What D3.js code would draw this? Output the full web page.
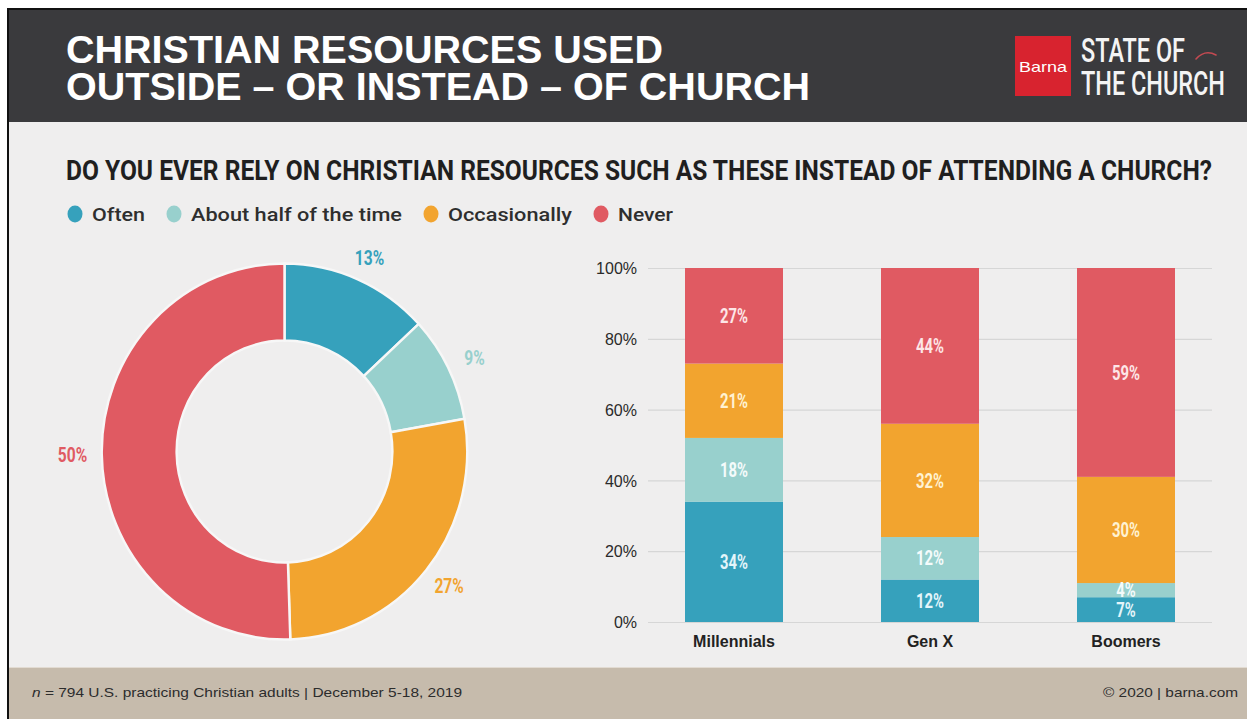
<!DOCTYPE html>
<html>
<head>
<meta charset="utf-8">
<script src="https://cdn.jsdelivr.net/npm/d3@7"></script>
<style>
  html, body { margin: 0; padding: 0; background: #ffffff; }
  svg { display: block; }
</style>
</head>
<body>
<svg id="chart" width="1247" height="719"></svg>
<script>
// ---- data ----
const responseLabels = ["Often", "About half of the time", "Occasionally", "Never"];
const responseColors = ["#36a1bc", "#98d0cd", "#f2a42f", "#e05a62"];
const labelTints = ["#e4f5fa", "#f4fbfb", "#fff2d2", "#fde6e7"];
const overallShares = [13, 9, 27, 50];

const generations = ["Millennials", "Gen X", "Boomers"];
const oftenValues = [34, 12, 7];
const halfTimeValues = [18, 12, 4];
const occasionallyValues = [21, 32, 30];
const neverValues = [27, 44, 59];
const yTickValues = [0, 20, 40, 60, 80, 100];

const titleLines = ["CHRISTIAN RESOURCES USED", "OUTSIDE \u2013 OR INSTEAD \u2013 OF CHURCH"];
const question = "DO YOU EVER RELY ON CHRISTIAN RESOURCES SUCH AS THESE INSTEAD OF ATTENDING A CHURCH?";

const svg = d3.select("#chart");

// squeeze a text element horizontally to a narrower face
function condense(sel, factor) {
  sel.each(function () {
    const w = this.getComputedTextLength();
    d3.select(this).attr("textLength", w * factor).attr("lengthAdjust", "spacingAndGlyphs");
  });
  return sel;
}
function fitWidth(sel, width) {
  return sel.attr("textLength", width).attr("lengthAdjust", "spacingAndGlyphs");
}

// ---- frame ----
svg.append("rect").attr("x", 7).attr("y", 8).attr("width", 1240).attr("height", 711).attr("fill", "#111");
svg.append("rect").attr("x", 9).attr("y", 10).attr("width", 1238).attr("height", 112).attr("fill", "#3a3a3d");
svg.append("rect").attr("x", 9).attr("y", 122).attr("width", 1238).attr("height", 546).attr("fill", "#efeeee");
svg.append("rect").attr("x", 9).attr("y", 668).attr("width", 1238).attr("height", 51).attr("fill", "#c6bbac");
svg.append("rect").attr("x", 9).attr("y", 667).attr("width", 1238).attr("height", 1).attr("fill", "#e2dbd2");

// ---- header ----
const title = svg.append("g").attr("font-family", "'Liberation Sans', Arial, sans-serif")
  .attr("font-weight", "bold").attr("font-size", 39).attr("fill", "#ffffff");
fitWidth(title.append("text").attr("x", 66).attr("y", 63).text(titleLines[0]), 597);
fitWidth(title.append("text").attr("x", 66).attr("y", 100).text(titleLines[1]), 744);

// logo block
const logo = svg.append("g");
logo.append("rect").attr("x", 1015).attr("y", 36).attr("width", 56).attr("height", 60).attr("fill", "#d8232f");
fitWidth(logo.append("text").attr("x", 1019).attr("y", 72)
  .attr("font-family", "'Liberation Sans', Arial, sans-serif").attr("font-size", 15)
  .attr("fill", "#ffffff").text("Barna"), 48);
const logoText = logo.append("g").attr("font-family", "Roboto, sans-serif").attr("font-weight", 500)
  .attr("font-size", 34).attr("fill", "#f4f4f4");
fitWidth(logoText.append("text").attr("x", 1081).attr("y", 62).text("STATE OF"), 104);
fitWidth(logoText.append("text").attr("x", 1081).attr("y", 95).text("THE CHURCH"), 144);
logo.append("path").attr("d", "M1196,59 Q1205,49 1216,55")
  .attr("fill", "none").attr("stroke", "#c44a52").attr("stroke-width", 1.6).attr("stroke-linecap", "round");

// ---- question ----
fitWidth(svg.append("text").attr("x", 66).attr("y", 180)
  .attr("font-family", "Roboto, sans-serif").attr("font-weight", "bold").attr("font-size", 27.5)
  .attr("fill", "#1f1f1f").text(question), 1146);

// ---- legend ----
const legendX = [75, 174, 431, 601];
const legendWidths = [53, 211, 124, 55];
const legend = svg.append("g").attr("font-family", "Roboto, sans-serif").attr("font-weight", 500)
  .attr("font-size", 19).attr("fill", "#2e2e2e");
responseLabels.forEach((lab, i) => {
  legend.append("ellipse").attr("cx", legendX[i]).attr("cy", 214).attr("rx", 7.5).attr("ry", 8.5)
    .attr("fill", responseColors[i]);
  fitWidth(legend.append("text").attr("x", legendX[i] + 17).attr("y", 220.5).text(lab), legendWidths[i]);
});

// ---- donut ----
const cx = 284.5, cy = 451.5;
const pie = d3.pie().sort(null).value(d => d);
const arcs = pie(overallShares);
const arc = d3.arc().innerRadius(111).outerRadius(188);
const donut = svg.append("g").attr("transform", `translate(${cx},${cy}) scale(0.972,1)`);
donut.selectAll("path").data(arcs).join("path")
  .attr("d", arc)
  .attr("fill", (d, i) => responseColors[i])
  .attr("stroke", "#f7f7f7").attr("stroke-width", 2.5);
const labelArc = d3.arc().innerRadius(212).outerRadius(212);
const donutLabels = svg.append("g").attr("transform", `translate(${cx},${cy})`)
  .selectAll("text").data(arcs).join("text")
  .attr("x", d => labelArc.centroid(d)[0])
  .attr("y", d => labelArc.centroid(d)[1])
  .attr("dy", "0.36em")
  .attr("text-anchor", "middle")
  .attr("font-family", "Roboto, sans-serif").attr("font-weight", "bold").attr("font-size", 21)
  .attr("fill", (d, i) => responseColors[i])
  .text(d => d.data + "%");
condense(donutLabels, 0.74);

// ---- stacked bars ----
const rows = generations.map((g, i) => ({
  gen: g,
  Often: oftenValues[i],
  "About half of the time": halfTimeValues[i],
  Occasionally: occasionallyValues[i],
  Never: neverValues[i]
}));
const stack = d3.stack().keys(responseLabels);
const series = stack(rows);

const x = d3.scaleBand().domain(generations).range([636, 1224]).paddingInner(0.5).paddingOuter(0.25);
const y = d3.scaleLinear().domain([0, 100]).range([622, 268]);

const yAxis = svg.append("g")
  .attr("transform", "translate(648,0)")
  .call(d3.axisLeft(y).tickValues(yTickValues).tickSize(-564).tickFormat(d => d + "%"));
yAxis.select(".domain").remove();
yAxis.selectAll(".tick line").attr("stroke", "#d6d6d6").attr("stroke-width", 1.2);
yAxis.selectAll(".tick text")
  .attr("x", -11).attr("dy", "0.36em")
  .attr("font-family", "'Liberation Sans', Arial, sans-serif").attr("font-size", 16)
  .attr("fill", "#2a2a2a");

const barGroups = svg.append("g").selectAll("g").data(series).join("g")
  .attr("fill", (d, i) => responseColors[i]);
barGroups.selectAll("rect").data(d => d).join("rect")
  .attr("x", d => x(d.data.gen))
  .attr("width", x.bandwidth())
  .attr("y", d => y(d[1]))
  .attr("height", d => y(d[0]) - y(d[1]));

// value labels inside each segment
const valueLabels = svg.append("g").selectAll("g").data(series).join("g")
  .attr("fill", (d, i) => labelTints[i]);
const vl = valueLabels.selectAll("text").data(d => d).join("text")
  .attr("x", d => x(d.data.gen) + x.bandwidth() / 2)
  .attr("y", d => y((d[0] + d[1]) / 2))
  .attr("dy", "0.36em")
  .attr("text-anchor", "middle")
  .attr("font-family", "Roboto, sans-serif").attr("font-weight", "bold").attr("font-size", 20)
  .text(d => (d[1] - d[0]) + "%");
condense(vl, 0.74);

// category axis
const xAxis = svg.append("g").attr("transform", "translate(0,622)")
  .call(d3.axisBottom(x).tickSize(0).tickPadding(14));
xAxis.select(".domain").remove();
xAxis.selectAll(".tick text")
  .attr("font-family", "'Liberation Sans', Arial, sans-serif").attr("font-size", 16)
  .attr("font-weight", "bold").attr("fill", "#222");

// ---- footer ----
const foot = svg.append("g").attr("font-family", "'Liberation Sans', Arial, sans-serif")
  .attr("font-size", 13.5).attr("fill", "#2c2c2c");
const note = foot.append("text").attr("x", 32).attr("y", 697);
note.append("tspan").attr("font-style", "italic").text("n");
note.append("tspan").text(" = 794 U.S. practicing Christian adults | December 5-18, 2019");
fitWidth(note, 430);
fitWidth(foot.append("text").attr("x", 1103).attr("y", 697).text("\u00a9 2020 | barna.com"), 135);
</script>
</body>
</html>
